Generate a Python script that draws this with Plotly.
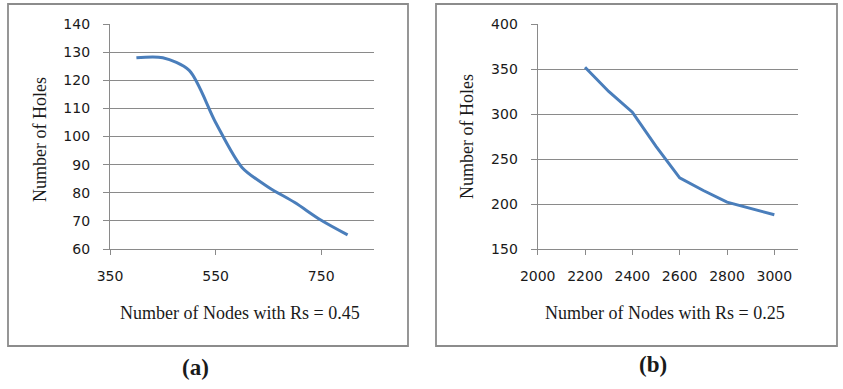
import plotly.graph_objects as go

# Panel (a)
nodes_a = [400, 450, 500, 550, 600, 650, 700, 750, 800]
holes_a = [128, 128, 123.5, 105, 89, 82, 76.5, 70.2, 65]
# Panel (b)
nodes_b = [2200, 2300, 2400, 2500, 2600, 2700, 2800, 2900, 3000]
holes_b = [352, 325, 302, 264, 229, 215, 202, 195, 188]

xtitle_a = "Number of Nodes with Rs = 0.45"
xtitle_b = "Number of Nodes with Rs = 0.25"
ytitle = "Number of Holes"
labels = ["(a)", "(b)"]

W, H = 843, 389
LINE = "#4A7EBB"
GRID = "#8a8a8a"

fig = go.Figure()
fig.add_trace(go.Scatter(x=nodes_a, y=holes_a, mode="lines",
                         line=dict(color=LINE, width=3, shape="spline", smoothing=0.8),
                         xaxis="x", yaxis="y", showlegend=False))
fig.add_trace(go.Scatter(x=nodes_b, y=holes_b, mode="lines",
                         line=dict(color=LINE, width=3),
                         xaxis="x2", yaxis="y2", showlegend=False))

def px_x(p):
    return p / W

def px_y(p):
    return 1 - p / H

tickfont = dict(family="DejaVu Sans, Verdana", size=14, color="#1a1a1a")
common_x = dict(showgrid=False, zeroline=False, showline=True, linecolor=GRID, linewidth=1.2,
                ticks="outside", ticklen=5, tickcolor=GRID, tickfont=tickfont,
                ticklabelstandoff=9, automargin=False)
common_y = dict(showgrid=True, gridcolor=GRID, gridwidth=1.2, zeroline=False, showline=True,
                linecolor=GRID, linewidth=1.2, ticks="outside", ticklen=6, tickcolor=GRID,
                tickfont=tickfont, ticklabelstandoff=10, automargin=False)

fig.update_layout(
    width=W, height=H, margin=dict(l=0, r=0, t=0, b=0, pad=0, autoexpand=False),
    paper_bgcolor="white", plot_bgcolor="white",
    xaxis=dict(domain=[px_x(110), px_x(374)], range=[350, 850], dtick=200, tick0=350,
               anchor="y", **common_x),
    yaxis=dict(domain=[px_y(249), px_y(24)], range=[60, 140], dtick=10,
               anchor="x", **common_y),
    xaxis2=dict(domain=[px_x(537.7), px_x(798)], range=[2000, 3100], dtick=200, tick0=2000,
                anchor="y2", **common_x),
    yaxis2=dict(domain=[px_y(249), px_y(24)], range=[150, 400], dtick=50,
                anchor="x2", **common_y),
)

shapes = []
for (x0, x1) in [(8, 408), (436, 837)]:
    shapes.append(dict(type="rect", xref="paper", yref="paper",
                       x0=px_x(x0), x1=px_x(x1), y0=px_y(346), y1=px_y(4),
                       line=dict(color="#8c8c8c", width=1.8)))
fig.update_layout(shapes=shapes)

serif = "Liberation Serif, Times New Roman"

def note(text, x, y, size, angle=0):
    return dict(text=text, x=px_x(x), y=px_y(y), xref="paper", yref="paper",
                xanchor="center", yanchor="middle", showarrow=False, textangle=angle,
                font=dict(family=serif, size=size, color="#1a1a1a"))

ann = [
    note(xtitle_a, 240, 313, 18),
    note(xtitle_b, 665, 313, 18),
    note(ytitle, 40, 140, 18, -90),
    note(ytitle, 467, 137, 18, -90),
    note("<b>" + labels[0] + "</b>", 195, 367, 23),
    note("<b>" + labels[1] + "</b>", 653, 364, 23),
]
fig.update_layout(annotations=ann)

fig.write_html("out.html", config={"displayModeBar": False},
               post_script="document.body.style.margin='0';document.body.style.overflow='hidden';")
